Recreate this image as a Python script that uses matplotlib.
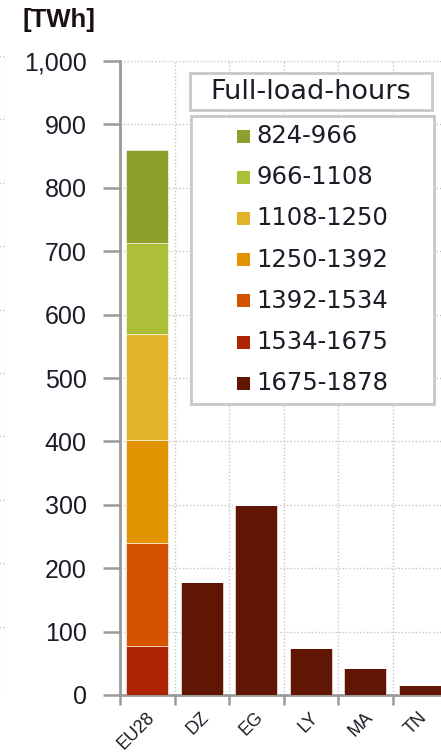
import numpy as np
import matplotlib.pyplot as plt
from matplotlib.patches import Rectangle

# data
countries = ["EU28", "DZ", "EG", "LY", "MA", "TN"]
classes = ["1675-1878", "1534-1675", "1392-1534", "1250-1392",
           "1108-1250", "966-1108", "824-966"]
colors = ["#611604", "#AE2303", "#D45300", "#E29300",
          "#E2B42A", "#ADBE39", "#8E9F2D"]
# TWh per full-load-hour class (bottom to top)
c1675 = [0, 178, 299, 74, 43, 15]
c1534 = [77, 0, 0, 0, 0, 0]
c1392 = [163, 0, 0, 0, 0, 0]
c1250 = [162, 0, 0, 0, 0, 0]
c1108 = [167, 0, 0, 0, 0, 0]
c966 = [144, 0, 0, 0, 0, 0]
c824 = [147, 0, 0, 0, 0, 0]
series = [c1675, c1534, c1392, c1250, c1108, c966, c824]

W, H = 441, 755
fig = plt.figure(figsize=(W / 100, H / 100), dpi=100)
txt = "#1c1c28"
grid_c = "#c4c4c4"
spine_c = "#9a9a9a"
box_c = "#c8c8c8"

def fx(px):
    return px / W

def fy(py):
    return 1 - py / H

# fragment of the neighbouring chart at the left edge
ax0 = fig.add_axes([-0.2, fy(690), 0.2 + fx(6), (690 - 56) / H])
ax0.set_xlim(0, 1)
ax0.set_ylim(0, 1000)
ax0.set_xticks([1])
ax0.set_yticks(np.arange(0, 1001, 100))
ax0.tick_params(length=0, labelleft=False, labelbottom=False)
ax0.grid(True, linestyle=(0, (1, 1.5)), color=grid_c, linewidth=1)
for s in ax0.spines.values():
    s.set_visible(False)

ax = fig.add_axes([fx(120), fy(695), 327 / W, (695 - 61) / H])
x = np.arange(len(countries))
bottom = np.zeros(len(countries))
for lab, col, vals in zip(classes, colors, series):
    ax.bar(x, vals, width=0.77, bottom=bottom, color=col,
           edgecolor="white", linewidth=0.4, zorder=3)
    bottom += np.array(vals)

ax.set_xlim(-0.5, len(countries) - 0.5)
ax.set_ylim(0, 1000)
ax.set_yticks(np.arange(0, 1001, 100))
ax.set_yticklabels(["{:,}".format(v) for v in range(0, 1001, 100)],
                   fontsize=18, color=txt, family="Liberation Sans")
ax.set_xticks(np.arange(-0.5, len(countries), 1.0))
ax.set_xticklabels([])
ax.set_xticks(x - 0.02, minor=True)
ax.set_xticklabels(countries, minor=True, rotation=45, ha="right",
                   va="top", rotation_mode="anchor", fontsize=13,
                   color=txt, family="Liberation Sans")
ax.tick_params(axis="x", which="minor", length=0, pad=10)
ax.tick_params(axis="x", which="major", length=7, width=1.8, color=spine_c)
ax.tick_params(axis="y", length=12, width=1.8, color=spine_c, pad=12)
ax.grid(True, which="major", linestyle=(0, (1, 1.5)), color=grid_c,
        linewidth=1, zorder=0)
ax.set_axisbelow(True)
for s in ["top", "right"]:
    ax.spines[s].set_visible(False)
for s in ["left", "bottom"]:
    ax.spines[s].set_color(spine_c)
    ax.spines[s].set_linewidth(2)

fig.text(fx(22), fy(20), "[TWh]", fontsize=18.5, fontweight="bold",
         color="#1a1010", family="Liberation Sans", va="center", ha="left")

# legend title in its own box
fig.patches.append(Rectangle((fx(190), fy(110)), fx(242), 37 / H,
                             transform=fig.transFigure, facecolor="white",
                             edgecolor=box_c, linewidth=2, zorder=5))
fig.text(fx(311), fy(92), "Full-load-hours", fontsize=19.5, color=txt,
         ha="center", va="center", zorder=6)

# legend entries box
fig.patches.append(Rectangle((fx(191), fy(404)), fx(243), 288 / H,
                             transform=fig.transFigure, facecolor="white",
                             edgecolor=box_c, linewidth=2, zorder=5))
for i, (lab, col) in enumerate(zip(classes[::-1], colors[::-1])):
    yc = 136 + 41.2 * i
    fig.patches.append(Rectangle((fx(237), fy(yc + 6.5)), fx(13), 13 / H,
                                 transform=fig.transFigure, facecolor=col,
                                 edgecolor="none", zorder=6))
    fig.text(fx(256), fy(yc), lab, fontsize=17.5, color=txt,
             ha="left", va="center", zorder=6)

fig.savefig("out.png", dpi=100)
